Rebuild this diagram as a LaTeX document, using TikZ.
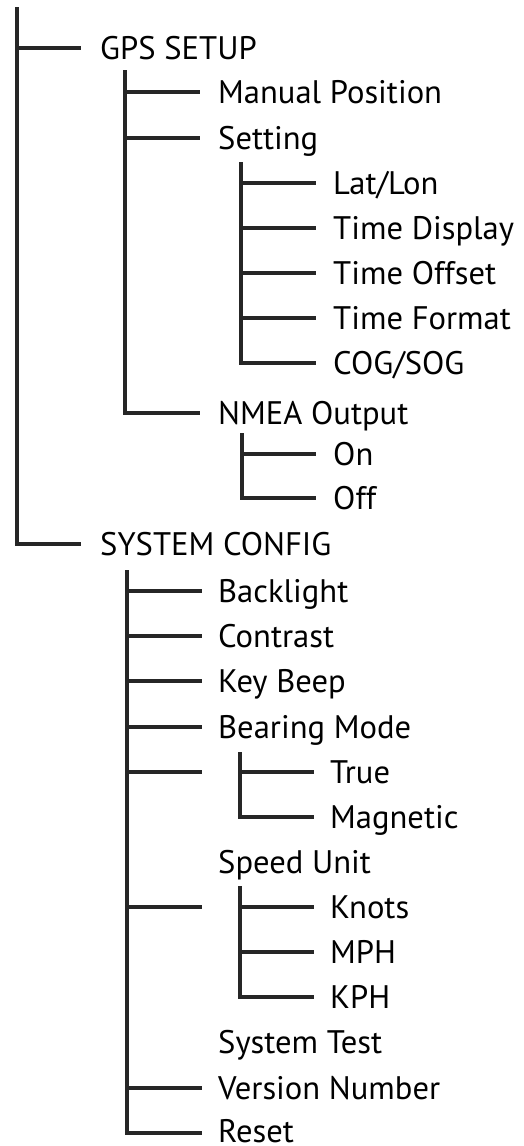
\documentclass[tikz,border=0pt]{standalone}
\usepackage{fontspec}
\setmainfont{PT Sans}
\usetikzlibrary{positioning}

\begin{document}
\begin{tikzpicture}[x=1pt, y=-1pt, node distance=18pt,
    branch/.style={line width=3.6pt, black!85},
    item/.style={anchor=west, inner sep=0pt, text height=23pt, text depth=0pt,
        font=\fontsize{32.6}{40}\selectfont}]
\useasboundingbox (0,0) rectangle (523,1146);

    % --- top level ---
    \coordinate (root) at (17,7);
    \coordinate (gps-e) at (81,48);
    \coordinate (sys-e) at (81,544);
    \node[item, right=19pt of gps-e] (gps) {GPS SETUP};
    \node[item, right=19pt of sys-e] (sys) {SYSTEM CONFIG};
    \draw[branch] (root) |- (sys-e);
    \draw[branch] (root |- gps-e) -- (gps-e);

    % --- GPS SETUP ---
    \coordinate (gps-r) at (125,70);
    \coordinate (man-e) at (200,92);
    \coordinate (set-e) at (200,138);
    \coordinate (nmea-e) at (200,413);
    \node[item, right=of man-e] (man) {Manual Position};
    \node[item, right=of set-e] (set) {Setting};
    \node[item, right=of nmea-e] (nmea) {NMEA Output};
    \draw[branch] (gps-r) |- (nmea-e);
    \draw[branch] (gps-r |- man-e) -- (man-e);
    \draw[branch] (gps-r |- set-e) -- (set-e);

    % Setting
    \coordinate (set-r) at (241,162);
    \coordinate (lat-e) at (316,183);
    \coordinate (tdisp-e) at (316,228);
    \coordinate (toff-e) at (316,273);
    \coordinate (tfmt-e) at (316,318);
    \coordinate (cog-e) at (316,363);
    \node[item, right=17pt of lat-e] (lat) {Lat/Lon};
    \node[item, right=17pt of tdisp-e] (tdisp) {Time Display};
    \node[item, right=17pt of toff-e] (toff) {Time Offset};
    \node[item, right=17pt of tfmt-e] (tfmt) {Time Format};
    \node[item, right=17pt of cog-e] (cog) {COG/SOG};
    \draw[branch] (set-r) |- (cog-e);
    \draw[branch] (set-r |- lat-e) -- (lat-e);
    \draw[branch] (set-r |- tdisp-e) -- (tdisp-e);
    \draw[branch] (set-r |- toff-e) -- (toff-e);
    \draw[branch] (set-r |- tfmt-e) -- (tfmt-e);

    % NMEA Output
    \coordinate (nmea-r) at (242,433);
    \coordinate (on-e) at (316,454);
    \coordinate (off-e) at (316,498);
    \node[item, right=17pt of on-e] (on) {On};
    \node[item, right=17pt of off-e] (off) {Off};
    \draw[branch] (nmea-r) |- (off-e);
    \draw[branch] (nmea-r |- on-e) -- (on-e);

    % --- SYSTEM CONFIG ---
    \coordinate (sys-r) at (127,570);
    \coordinate (back-e) at (202,591);
    \coordinate (con-e) at (202,636);
    \coordinate (key-e) at (202,681);
    \coordinate (bear-e) at (202,727);
    \coordinate (gap1-e) at (202,772);
    \coordinate (gap2-e) at (202,907);
    \coordinate (ver-e) at (202,1088);
    \coordinate (reset-e) at (202,1133);
    \node[item, right=16pt of back-e] (back) {Backlight};
    \node[item, right=16pt of con-e] (con) {Contrast};
    \node[item, right=16pt of key-e] (key) {Key Beep};
    \node[item, right=16pt of bear-e] (bear) {Bearing Mode};
    \node[item] (speed) at (218,862) {Speed Unit};
    \node[item] (test) at (218,1042) {System Test};
    \node[item, right=16pt of ver-e] (ver) {Version Number};
    \node[item, right=16pt of reset-e, yshift=2pt] (reset) {Reset};
    \draw[branch] (sys-r) |- (reset-e);
    \draw[branch] (sys-r |- back-e) -- (back-e);
    \draw[branch] (sys-r |- con-e) -- (con-e);
    \draw[branch] (sys-r |- key-e) -- (key-e);
    \draw[branch] (sys-r |- bear-e) -- (bear-e);
    \draw[branch] (sys-r |- gap1-e) -- (gap1-e);
    \draw[branch] (sys-r |- gap2-e) -- (gap2-e);
    \draw[branch] (sys-r |- ver-e) -- (ver-e);

    % Bearing Mode
    \coordinate (bear-r) at (240,752);
    \coordinate (true-e) at (314,772);
    \coordinate (mag-e) at (314,817);
    \node[item, right=16pt of true-e] (true) {True};
    \node[item, right=16pt of mag-e] (mag) {Magnetic};
    \draw[branch] (bear-r) |- (mag-e);
    \draw[branch] (bear-r |- true-e) -- (true-e);

    % Speed Unit
    \coordinate (speed-r) at (240,886);
    \coordinate (knots-e) at (314,907);
    \coordinate (mph-e) at (314,952);
    \coordinate (kph-e) at (314,997);
    \node[item, right=16pt of knots-e] (knots) {Knots};
    \node[item, right=16pt of mph-e] (mph) {MPH};
    \node[item, right=16pt of kph-e] (kph) {KPH};
    \draw[branch] (speed-r) |- (kph-e);
    \draw[branch] (speed-r |- knots-e) -- (knots-e);
    \draw[branch] (speed-r |- mph-e) -- (mph-e);

\end{tikzpicture}
\end{document}
